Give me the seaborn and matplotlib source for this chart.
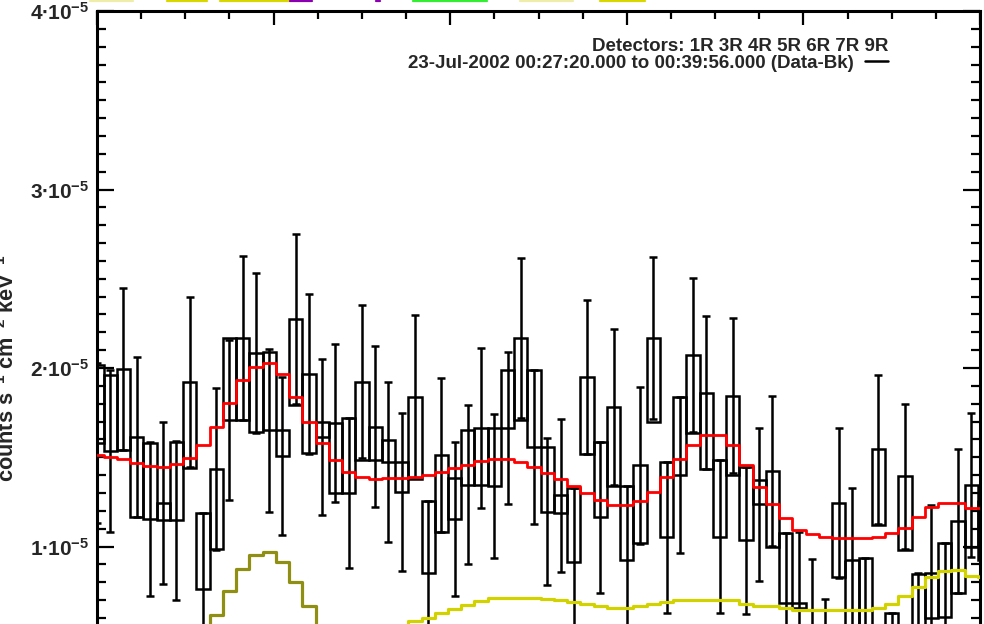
import numpy as np
import pandas as pd
import matplotlib
matplotlib.use("Agg")
import matplotlib.pyplot as plt
from matplotlib.ticker import MultipleLocator, FuncFormatter
from matplotlib.lines import Line2D
import seaborn as sns

# ---------------- data (flux in units of 1e-5 counts s^-1 cm^-2 keV^-1) ----------------
bin_width = 0.075
energy = np.round(5.0 + bin_width * np.arange(68), 4)   # bin centres (keV)

data_val = [1.580, 1.535, 1.994, 1.615, 1.154, 1.246, 1.146, 1.923, 0.760, 1.434,
            1.709, 2.168, 2.082, 1.650, 1.507, 2.273, 1.966, 1.613, 1.694, 1.298,
            1.923, 1.671, 1.475, 1.307, 1.839, 0.853, 1.515, 1.152, 1.347, 1.662,
            1.341, 1.662, 2.166, 1.557, 1.195, 1.286, 0.915, 1.951, 1.164, 1.783,
            0.924, 1.455, 2.166, 1.052, 1.402, 2.073, 1.862, 1.056, 1.845, 1.035,
            1.237, 1.425, 0.682, 0.655, 0.499, 0.275, 1.245, 0.924, 0.504, 1.545,
            0.207, 1.393, 0.420, 0.850, 0.607, 1.141, 1.345, 1.261]

data_err = [0.448, 0.454, 0.454, 0.448, 0.434, 0.454, 0.445, 0.476, 0.429, 0.454,
            0.448, 0.459, 0.448, 0.459, 0.443, 0.476, 0.448, 0.437, 0.443, 0.420,
            0.430, 0.452, 0.448, 0.443, 0.458, 0.403, 0.431, 0.431, 0.445, 0.448,
            0.403, 0.426, 0.448, 0.431, 0.412, 0.431, 0.411, 0.430, 0.423, 0.437,
            0.415, 0.441, 0.454, 0.423, 0.437, 0.433, 0.430, 0.429, 0.434, 0.413,
            0.429, 0.420, 0.392, 0.426, 0.431, 0.431, 0.420, 0.403, 0.431, 0.417,
            0.420, 0.406, 0.431, 0.381, 0.415, 0.403, 0.403, 0.420]

data_alt = [2.017, 1.961, 1.541, 1.167, 1.580, 1.148, 1.587, 1.438, 1.189, 0.986,
            2.168, 1.709, 1.643, 2.090, 1.653, 1.793, 1.522, 1.699, 1.298, 1.718,
            1.485, 1.485, 1.597, 1.475, 1.376, 1.257, 1.083, 1.384, 1.653, 1.345,
            1.664, 1.989, 1.709, 1.989, 1.559, 1.189, 1.326, 1.518, 1.587, 1.339,
            1.339, 1.020, 1.699, 1.475, 1.839, 1.634, 1.434, 1.485, 1.401, 1.447,
            1.373, 0.999, 1.074, 0.683, 0.448, 0.420, 0.831, 0.476, 0.936, 1.120,
            0.627, 0.980, 0.846, 0.599, 1.018, 0.738, 0.999, 0.924]

model_total = [1.510, 1.500, 1.488, 1.466, 1.453, 1.447, 1.460, 1.498, 1.569, 1.670,
               1.806, 1.933, 2.007, 2.026, 1.966, 1.839, 1.699, 1.578, 1.485, 1.419,
               1.391, 1.376, 1.382, 1.385, 1.391, 1.400, 1.419, 1.438, 1.457, 1.479,
               1.490, 1.490, 1.472, 1.443, 1.413, 1.376, 1.339, 1.298, 1.260, 1.232,
               1.232, 1.255, 1.307, 1.391, 1.488, 1.569, 1.625, 1.625, 1.569, 1.457,
               1.335, 1.236, 1.158, 1.092, 1.070, 1.055, 1.046, 1.046, 1.046, 1.055,
               1.074, 1.105, 1.164, 1.220, 1.246, 1.246, 1.214, 1.214]

model_line = [0.10, 0.12, 0.15, 0.19, 0.25, 0.32, 0.40, 0.46, 0.50, 0.616,
              0.752, 0.874, 0.952, 0.971, 0.915, 0.803, 0.667, 0.53, 0.42, 0.33,
              0.26, 0.20, 0.15, 0.12, 0.10, 0.08, 0.07, 0.06, 0.05, 0.05,
              0.04, 0.04, 0.04, 0.03, 0.03, 0.03, 0.03, 0.03, 0.03, 0.03,
              0.03, 0.03, 0.03, 0.03, 0.03, 0.03, 0.03, 0.03, 0.03, 0.03,
              0.03, 0.03, 0.03, 0.03, 0.03, 0.03, 0.03, 0.03, 0.03, 0.03,
              0.03, 0.03, 0.03, 0.03, 0.03, 0.03, 0.03, 0.03]

model_cont = [0.10, 0.11, 0.12, 0.13, 0.14, 0.15, 0.16, 0.18, 0.20, 0.22,
              0.24, 0.26, 0.28, 0.30, 0.32, 0.34, 0.36, 0.38, 0.40, 0.43,
              0.46, 0.49, 0.52, 0.55, 0.58, 0.60, 0.625, 0.65, 0.675, 0.695,
              0.71, 0.713, 0.713, 0.71, 0.705, 0.70, 0.69, 0.68, 0.665, 0.655,
              0.655, 0.665, 0.68, 0.69, 0.70, 0.70, 0.70, 0.70, 0.70, 0.68,
              0.666, 0.666, 0.654, 0.644, 0.644, 0.644, 0.644, 0.644, 0.644, 0.654,
              0.68, 0.72, 0.775, 0.83, 0.86, 0.868, 0.835, 0.83]

y_ticks = [0, 1, 2, 3, 4]
legend_title = "Detectors: 1R 3R 4R 5R 6R 7R 9R"
legend_label = "23-Jul-2002 00:27:20.000 to 00:39:56.000 (Data-Bk)"
ylabel = r"counts s$^{-1}$ cm$^{-2}$ keV$^{-1}$"

# colour fragments of a (cropped-off) legend above the plot: (x0 px, x1 px, colour)
top_fragments = [(90, 133, "#eeeeaa"), (167, 207, "#d8d800"), (220, 290, "#d8d800"),
                 (290, 312, "#8a00b0"), (376, 380, "#8a00b0"), (413, 487, "#33ee33"),
                 (520, 573, "#eeeeaa"), (600, 645, "#d8d800")]

scale = 1e-5
df = pd.DataFrame({
    "energy": energy,
    "val": np.array(data_val) * scale,
    "err": np.array(data_err) * scale,
    "alt": np.array(data_alt) * scale,
    "total": np.array(model_total) * scale,
    "line": np.array(model_line) * scale,
    "cont": np.array(model_cont) * scale,
})

# ---------------- style ----------------
sns.set_theme(style="ticks")
plt.rcParams["font.family"] = ["Liberation Sans", "DejaVu Sans"]
plt.rcParams["mathtext.fontset"] = "custom"
plt.rcParams["mathtext.rm"] = "Liberation Sans:bold"
plt.rcParams["mathtext.bf"] = "Liberation Sans:bold"
plt.rcParams["mathtext.it"] = "Liberation Sans:bold"
plt.rcParams["mathtext.default"] = "bf"

W, H = 984, 624
fig = plt.figure(figsize=(W / 100, H / 100), dpi=100)
fig.patch.set_facecolor("white")
# axes extends below the bottom of the (cropped) figure
ax = fig.add_axes([97 / W, 1 - 725 / H, 883 / W, 714 / H])
ax.set_facecolor("white")

lw = 1.8
# data boxes and error bars
ax.bar(df["energy"], df["alt"] - df["val"], bottom=df["val"], width=bin_width,
       fill=False, edgecolor="black", linewidth=lw, zorder=2)
ax.errorbar(df["energy"], df["val"], yerr=df["err"], fmt="none", ecolor="black",
            elinewidth=lw, capsize=3.2, capthick=lw, zorder=2)

# model components
sns.lineplot(data=df, x="energy", y="line", drawstyle="steps-mid", color="#8f8f14",
             linewidth=2.3, ax=ax, estimator=None, sort=False, legend=False, zorder=4)
sns.lineplot(data=df, x="energy", y="cont", drawstyle="steps-mid", color="#d2d200",
             linewidth=2.3, ax=ax, estimator=None, sort=False, legend=False, zorder=4)
sns.lineplot(data=df, x="energy", y="total", drawstyle="steps-mid", color="#ff0000",
             linewidth=2.0, ax=ax, estimator=None, sort=False, legend=False, zorder=5)

ax.set_xlim(5.0, 10.0)
ax.set_ylim(0, 4e-5)

ax.xaxis.set_major_locator(MultipleLocator(1.0))
ax.xaxis.set_minor_locator(MultipleLocator(0.25))
ax.set_yticks([t * scale for t in y_ticks])
ax.yaxis.set_minor_locator(MultipleLocator(0.1 * scale))

def fmt(v, pos):
    m = int(round(v / scale))
    if m == 0:
        return ""
    return r"$%d{\bullet}10^{-5}$" % m

ax.yaxis.set_major_formatter(FuncFormatter(fmt))
ax.tick_params(axis="both", which="both", direction="in", top=True, right=True,
               width=1.6, color="black")
ax.tick_params(axis="y", which="major", length=12.5, labelsize=15, pad=6)
ax.tick_params(axis="y", which="minor", length=6.5)
ax.tick_params(axis="x", which="major", length=10, labelbottom=False)
ax.tick_params(axis="x", which="minor", length=5.5)
for sp in ax.spines.values():
    sp.set_linewidth(2.2)
    sp.set_color("black")

ax.set_xlabel("")
ax.set_ylabel(ylabel, fontsize=15.7, fontweight="bold")
ax.yaxis.set_label_coords(-0.0885, 0.5)

leg = ax.legend(handles=[Line2D([], [], color="black", lw=1.8)], labels=[legend_label],
                title=legend_title, loc="upper right", bbox_to_anchor=(0.8958, 0.9625),
                frameon=False, markerfirst=False, alignment="right",
                prop={"size": 13.5, "weight": "bold"},
                title_fontproperties={"size": 13.5, "weight": "bold"},
                handlelength=1.2, handletextpad=0.6,
                borderpad=0, borderaxespad=0, labelspacing=0)

for x0, x1, c in top_fragments:
    fig.add_artist(Line2D([x0 / W, x1 / W], [1 - 1 / H, 1 - 1 / H], color=c,
                          lw=1.6, transform=fig.transFigure))

fig.savefig("out.png", dpi=100, facecolor="white")
